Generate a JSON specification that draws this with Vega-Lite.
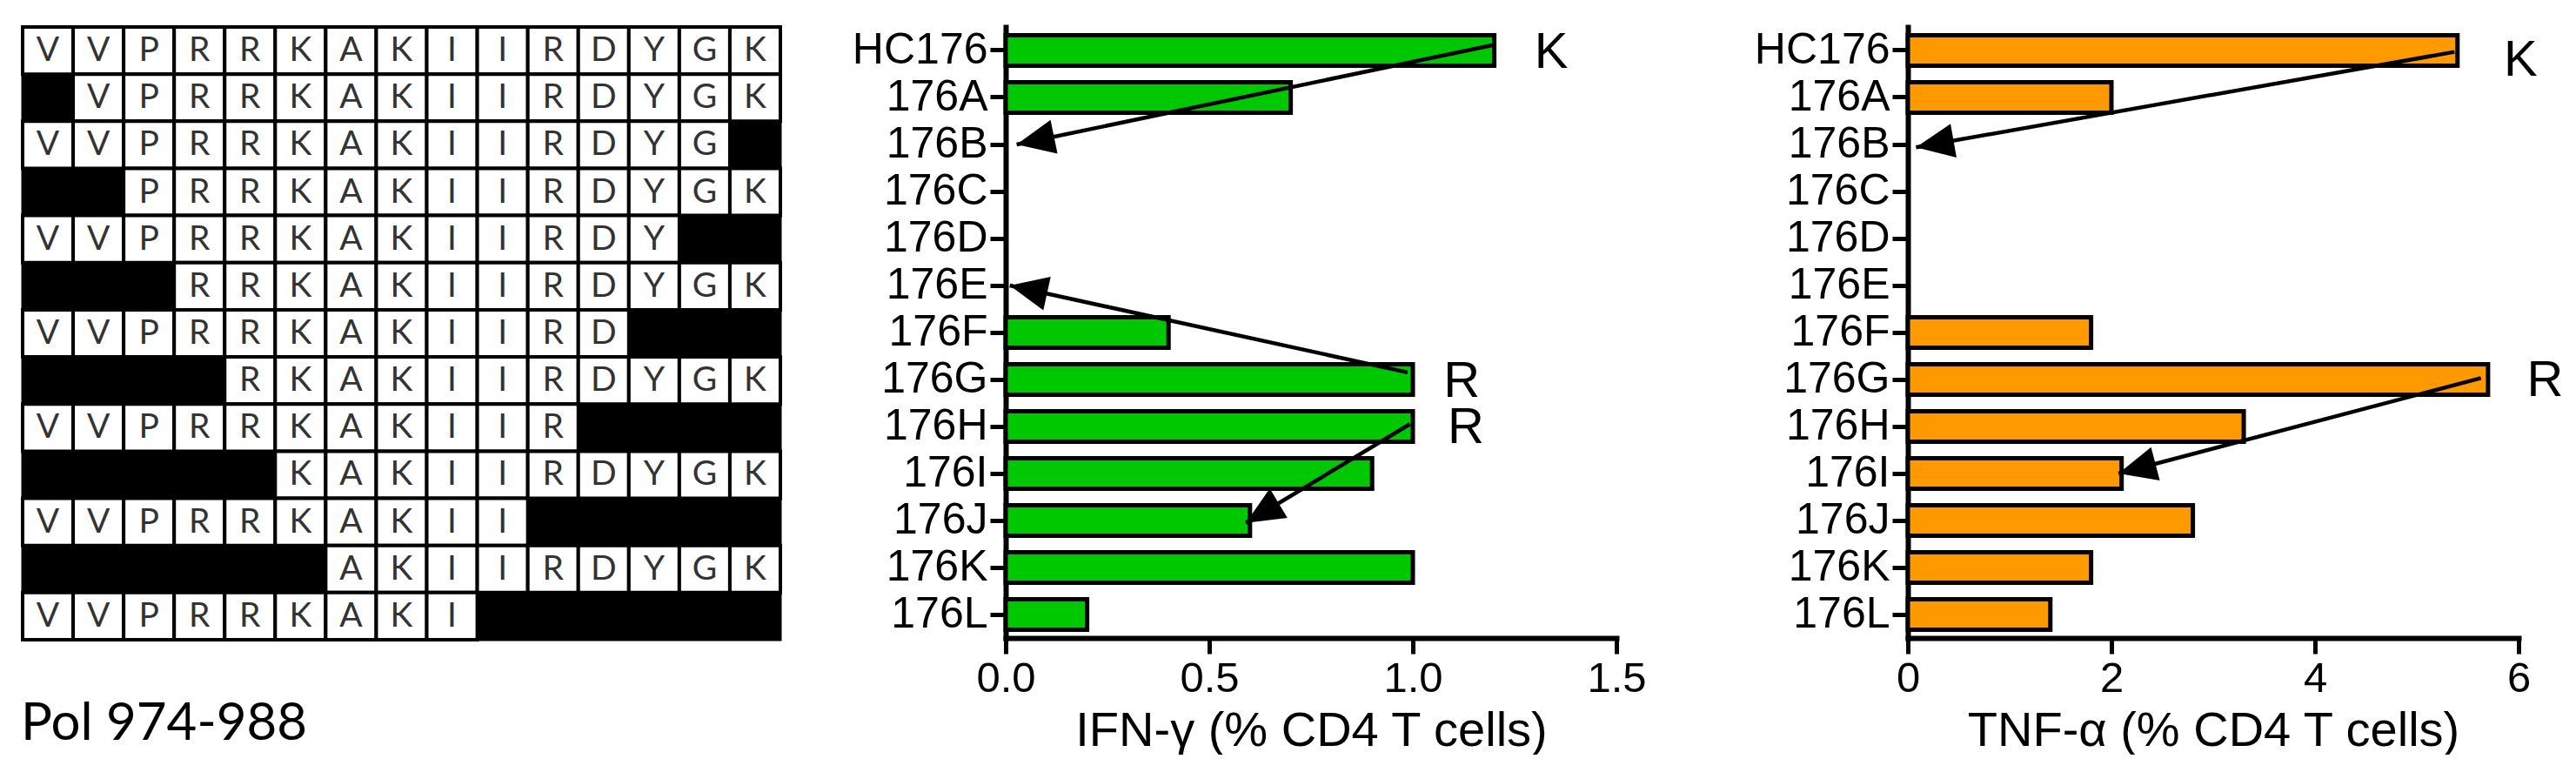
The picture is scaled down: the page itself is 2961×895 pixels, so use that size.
{
  "$schema": "https://vega.github.io/schema/vega-lite/v6.json",
  "padding": {"left": 22, "top": 27, "right": 0, "bottom": 0},
  "background": "white",
  "config": {
    "view": {"stroke": null},
    "font": "Liberation Sans",
    "axis": {
      "domainColor": "black", "domainWidth": 6, "domainCap": "square",
      "tickColor": "black", "tickWidth": 5, "tickSize": 18,
      "labelFont": "Liberation Sans", "labelFontSize": 49, "labelColor": "black", "labelPadding": 4,
      "labelFlush": false, "labelOverlap": false, "labelBound": false,
      "titleFont": "Liberation Sans", "titleFontSize": 56, "titleFontWeight": "normal", "titleColor": "black", "titlePadding": 8,
      "grid": false
    },
    "axisY": {"labelFontSize": 50, "labelPadding": 3}
  },
  "datasets": {
    "cells": [
      {"p":"HC176","i":1,"a":"V"},{"p":"HC176","i":2,"a":"V"},{"p":"HC176","i":3,"a":"P"},{"p":"HC176","i":4,"a":"R"},{"p":"HC176","i":5,"a":"R"},{"p":"HC176","i":6,"a":"K"},{"p":"HC176","i":7,"a":"A"},{"p":"HC176","i":8,"a":"K"},{"p":"HC176","i":9,"a":"I"},{"p":"HC176","i":10,"a":"I"},{"p":"HC176","i":11,"a":"R"},{"p":"HC176","i":12,"a":"D"},{"p":"HC176","i":13,"a":"Y"},{"p":"HC176","i":14,"a":"G"},{"p":"HC176","i":15,"a":"K"},
      {"p":"176A","i":2,"a":"V"},{"p":"176A","i":3,"a":"P"},{"p":"176A","i":4,"a":"R"},{"p":"176A","i":5,"a":"R"},{"p":"176A","i":6,"a":"K"},{"p":"176A","i":7,"a":"A"},{"p":"176A","i":8,"a":"K"},{"p":"176A","i":9,"a":"I"},{"p":"176A","i":10,"a":"I"},{"p":"176A","i":11,"a":"R"},{"p":"176A","i":12,"a":"D"},{"p":"176A","i":13,"a":"Y"},{"p":"176A","i":14,"a":"G"},{"p":"176A","i":15,"a":"K"},
      {"p":"176B","i":1,"a":"V"},{"p":"176B","i":2,"a":"V"},{"p":"176B","i":3,"a":"P"},{"p":"176B","i":4,"a":"R"},{"p":"176B","i":5,"a":"R"},{"p":"176B","i":6,"a":"K"},{"p":"176B","i":7,"a":"A"},{"p":"176B","i":8,"a":"K"},{"p":"176B","i":9,"a":"I"},{"p":"176B","i":10,"a":"I"},{"p":"176B","i":11,"a":"R"},{"p":"176B","i":12,"a":"D"},{"p":"176B","i":13,"a":"Y"},{"p":"176B","i":14,"a":"G"},
      {"p":"176C","i":3,"a":"P"},{"p":"176C","i":4,"a":"R"},{"p":"176C","i":5,"a":"R"},{"p":"176C","i":6,"a":"K"},{"p":"176C","i":7,"a":"A"},{"p":"176C","i":8,"a":"K"},{"p":"176C","i":9,"a":"I"},{"p":"176C","i":10,"a":"I"},{"p":"176C","i":11,"a":"R"},{"p":"176C","i":12,"a":"D"},{"p":"176C","i":13,"a":"Y"},{"p":"176C","i":14,"a":"G"},{"p":"176C","i":15,"a":"K"},
      {"p":"176D","i":1,"a":"V"},{"p":"176D","i":2,"a":"V"},{"p":"176D","i":3,"a":"P"},{"p":"176D","i":4,"a":"R"},{"p":"176D","i":5,"a":"R"},{"p":"176D","i":6,"a":"K"},{"p":"176D","i":7,"a":"A"},{"p":"176D","i":8,"a":"K"},{"p":"176D","i":9,"a":"I"},{"p":"176D","i":10,"a":"I"},{"p":"176D","i":11,"a":"R"},{"p":"176D","i":12,"a":"D"},{"p":"176D","i":13,"a":"Y"},
      {"p":"176E","i":4,"a":"R"},{"p":"176E","i":5,"a":"R"},{"p":"176E","i":6,"a":"K"},{"p":"176E","i":7,"a":"A"},{"p":"176E","i":8,"a":"K"},{"p":"176E","i":9,"a":"I"},{"p":"176E","i":10,"a":"I"},{"p":"176E","i":11,"a":"R"},{"p":"176E","i":12,"a":"D"},{"p":"176E","i":13,"a":"Y"},{"p":"176E","i":14,"a":"G"},{"p":"176E","i":15,"a":"K"},
      {"p":"176F","i":1,"a":"V"},{"p":"176F","i":2,"a":"V"},{"p":"176F","i":3,"a":"P"},{"p":"176F","i":4,"a":"R"},{"p":"176F","i":5,"a":"R"},{"p":"176F","i":6,"a":"K"},{"p":"176F","i":7,"a":"A"},{"p":"176F","i":8,"a":"K"},{"p":"176F","i":9,"a":"I"},{"p":"176F","i":10,"a":"I"},{"p":"176F","i":11,"a":"R"},{"p":"176F","i":12,"a":"D"},
      {"p":"176G","i":5,"a":"R"},{"p":"176G","i":6,"a":"K"},{"p":"176G","i":7,"a":"A"},{"p":"176G","i":8,"a":"K"},{"p":"176G","i":9,"a":"I"},{"p":"176G","i":10,"a":"I"},{"p":"176G","i":11,"a":"R"},{"p":"176G","i":12,"a":"D"},{"p":"176G","i":13,"a":"Y"},{"p":"176G","i":14,"a":"G"},{"p":"176G","i":15,"a":"K"},
      {"p":"176H","i":1,"a":"V"},{"p":"176H","i":2,"a":"V"},{"p":"176H","i":3,"a":"P"},{"p":"176H","i":4,"a":"R"},{"p":"176H","i":5,"a":"R"},{"p":"176H","i":6,"a":"K"},{"p":"176H","i":7,"a":"A"},{"p":"176H","i":8,"a":"K"},{"p":"176H","i":9,"a":"I"},{"p":"176H","i":10,"a":"I"},{"p":"176H","i":11,"a":"R"},
      {"p":"176I","i":6,"a":"K"},{"p":"176I","i":7,"a":"A"},{"p":"176I","i":8,"a":"K"},{"p":"176I","i":9,"a":"I"},{"p":"176I","i":10,"a":"I"},{"p":"176I","i":11,"a":"R"},{"p":"176I","i":12,"a":"D"},{"p":"176I","i":13,"a":"Y"},{"p":"176I","i":14,"a":"G"},{"p":"176I","i":15,"a":"K"},
      {"p":"176J","i":1,"a":"V"},{"p":"176J","i":2,"a":"V"},{"p":"176J","i":3,"a":"P"},{"p":"176J","i":4,"a":"R"},{"p":"176J","i":5,"a":"R"},{"p":"176J","i":6,"a":"K"},{"p":"176J","i":7,"a":"A"},{"p":"176J","i":8,"a":"K"},{"p":"176J","i":9,"a":"I"},{"p":"176J","i":10,"a":"I"},
      {"p":"176K","i":7,"a":"A"},{"p":"176K","i":8,"a":"K"},{"p":"176K","i":9,"a":"I"},{"p":"176K","i":10,"a":"I"},{"p":"176K","i":11,"a":"R"},{"p":"176K","i":12,"a":"D"},{"p":"176K","i":13,"a":"Y"},{"p":"176K","i":14,"a":"G"},{"p":"176K","i":15,"a":"K"},
      {"p":"176L","i":1,"a":"V"},{"p":"176L","i":2,"a":"V"},{"p":"176L","i":3,"a":"P"},{"p":"176L","i":4,"a":"R"},{"p":"176L","i":5,"a":"R"},{"p":"176L","i":6,"a":"K"},{"p":"176L","i":7,"a":"A"},{"p":"176L","i":8,"a":"K"},{"p":"176L","i":9,"a":"I"}
    ],
    "bars": [
      {"p":"HC176","ifn":1.2,"tnf":5.4},
      {"p":"176A","ifn":0.7,"tnf":2.0},
      {"p":"176B","ifn":null,"tnf":null},
      {"p":"176C","ifn":null,"tnf":null},
      {"p":"176D","ifn":null,"tnf":null},
      {"p":"176E","ifn":null,"tnf":null},
      {"p":"176F","ifn":0.4,"tnf":1.8},
      {"p":"176G","ifn":1.0,"tnf":5.7},
      {"p":"176H","ifn":1.0,"tnf":3.3},
      {"p":"176I","ifn":0.9,"tnf":2.1},
      {"p":"176J","ifn":0.6,"tnf":2.8},
      {"p":"176K","ifn":1.0,"tnf":1.8},
      {"p":"176L","ifn":0.2,"tnf":1.4}
    ],
    "arrows": [
      {"panel":"IFN","id":"i1","x1":1.2,"y1":0.38,"x2":0.027,"y2":2.5},
      {"panel":"IFN","id":"i2","x1":0.987,"y1":7.35,"x2":0.01,"y2":5.5},
      {"panel":"IFN","id":"i3","x1":0.993,"y1":8.45,"x2":0.59,"y2":10.55},
      {"panel":"TNF","id":"t1","x1":5.37,"y1":0.53,"x2":0.08,"y2":2.56},
      {"panel":"TNF","id":"t2","x1":5.63,"y1":7.47,"x2":2.07,"y2":9.5}
    ],
    "notes": [
      {"panel":"IFN","label":"K","x":1.34,"y":0.56},
      {"panel":"IFN","label":"R","x":1.12,"y":7.56},
      {"panel":"IFN","label":"R","x":1.13,"y":8.53},
      {"panel":"TNF","label":"K","x":6.02,"y":0.72},
      {"panel":"TNF","label":"R","x":6.26,"y":7.53}
    ]
  },
  "spacing": 259,
  "bounds": "flush",
  "hconcat": [
    {
      "width": 871,
      "height": 704,
      "data": {"name": "cells"},
      "view": {"fill": "black", "stroke": "black", "strokeWidth": 3},
      "title": {"text": "Pol 974-988", "orient": "bottom", "anchor": "start", "font": "Lato", "fontSize": 60, "fontWeight": "normal", "color": "black", "baseline": "alphabetic", "offset": 113},
      "encoding": {
        "x": {"field": "i", "type": "ordinal", "scale": {"domain": [1,2,3,4,5,6,7,8,9,10,11,12,13,14,15], "paddingInner": 0, "paddingOuter": 0}, "axis": null},
        "y": {"field": "p", "type": "nominal", "scale": {"domain": ["HC176","176A","176B","176C","176D","176E","176F","176G","176H","176I","176J","176K","176L"], "paddingInner": 0, "paddingOuter": 0}, "axis": null}
      },
      "layer": [
        {"mark": {"type": "rect", "fill": "white", "stroke": "black", "strokeWidth": 4}},
        {"mark": {"type": "text", "font": "Lato", "fontSize": 39, "color": "#333333", "baseline": "middle", "align": "center"}, "encoding": {"text": {"field": "a"}}}
      ]
    },
    {
      "spacing": 335,
      "bounds": "flush",
      "hconcat": [
        {
          "width": 702,
          "height": 702,
          "resolve": {"scale": {"y": "independent"}},
          "layer": [
            {
              "data": {"name": "bars"},
              "transform": [{"filter": "isValid(datum.ifn)"}],
              "mark": {"type": "bar", "fill": "#00c800", "stroke": "black", "strokeWidth": 5},
              "encoding": {
                "y": {"field": "p", "type": "nominal", "scale": {"domain": ["HC176","176A","176B","176C","176D","176E","176F","176G","176H","176I","176J","176K","176L"], "paddingInner": 0.35, "paddingOuter": 0.175}, "axis": {"title": null}},
                "x": {"field": "ifn", "type": "quantitative", "title": "IFN-γ (% CD4 T cells)", "scale": {"domain": [0, 1.5], "nice": false}, "axis": {"values": [0, 0.5, 1, 1.5], "format": ".1f"}}
              }
            },
            {
              "data": {"name": "arrows"},
              "transform": [{"filter": "datum.panel == 'IFN'"}],
              "mark": {"type": "rule", "strokeWidth": 4.5, "color": "black"},
              "encoding": {
                "x": {"field": "x1", "type": "quantitative", "title": "IFN-γ (% CD4 T cells)", "scale": {"domain": [0, 1.5], "nice": false}},
                "x2": {"field": "x2"},
                "y": {"field": "y1", "type": "quantitative", "scale": {"domain": [0, 13], "reverse": true, "nice": false, "zero": false}, "axis": null},
                "y2": {"field": "y2"}
              }
            },
            {
              "data": {"name": "arrows"},
              "transform": [{"filter": "datum.id == 'i1'"}],
              "mark": {"type": "point", "shape": "M0,0L-0.72,1.6L0.72,1.6Z", "size": 3000, "angle": 258.3, "filled": true, "color": "black", "opacity": 1},
              "encoding": {
                "x": {"field": "x2", "type": "quantitative", "title": "IFN-γ (% CD4 T cells)", "scale": {"domain": [0, 1.5], "nice": false}},
                "y": {"field": "y2", "type": "quantitative", "scale": {"domain": [0, 13], "reverse": true, "nice": false, "zero": false}, "axis": null}
              }
            },
            {
              "data": {"name": "arrows"},
              "transform": [{"filter": "datum.id == 'i2'"}],
              "mark": {"type": "point", "shape": "M0,0L-0.72,1.6L0.72,1.6Z", "size": 3000, "angle": 282.3, "filled": true, "color": "black", "opacity": 1},
              "encoding": {
                "x": {"field": "x2", "type": "quantitative", "title": "IFN-γ (% CD4 T cells)", "scale": {"domain": [0, 1.5], "nice": false}},
                "y": {"field": "y2", "type": "quantitative", "scale": {"domain": [0, 13], "reverse": true, "nice": false, "zero": false}, "axis": null}
              }
            },
            {
              "data": {"name": "arrows"},
              "transform": [{"filter": "datum.id == 'i3'"}],
              "mark": {"type": "point", "shape": "M0,0L-0.72,1.6L0.72,1.6Z", "size": 3000, "angle": 239.1, "filled": true, "color": "black", "opacity": 1},
              "encoding": {
                "x": {"field": "x2", "type": "quantitative", "title": "IFN-γ (% CD4 T cells)", "scale": {"domain": [0, 1.5], "nice": false}},
                "y": {"field": "y2", "type": "quantitative", "scale": {"domain": [0, 13], "reverse": true, "nice": false, "zero": false}, "axis": null}
              }
            },
            {
              "data": {"name": "notes"},
              "transform": [{"filter": "datum.panel == 'IFN'"}],
              "mark": {"type": "text", "font": "Liberation Sans", "fontSize": 58, "color": "black", "align": "center", "baseline": "middle"},
              "encoding": {
                "text": {"field": "label"},
                "x": {"field": "x", "type": "quantitative", "title": "IFN-γ (% CD4 T cells)", "scale": {"domain": [0, 1.5], "nice": false}},
                "y": {"field": "y", "type": "quantitative", "scale": {"domain": [0, 13], "reverse": true, "nice": false, "zero": false}, "axis": null}
              }
            }
          ]
        },
        {
          "width": 702,
          "height": 702,
          "resolve": {"scale": {"y": "independent"}},
          "layer": [
            {
              "data": {"name": "bars"},
              "transform": [{"filter": "isValid(datum.tnf)"}],
              "mark": {"type": "bar", "fill": "#ff9900", "stroke": "black", "strokeWidth": 5},
              "encoding": {
                "y": {"field": "p", "type": "nominal", "scale": {"domain": ["HC176","176A","176B","176C","176D","176E","176F","176G","176H","176I","176J","176K","176L"], "paddingInner": 0.35, "paddingOuter": 0.175}, "axis": {"title": null}},
                "x": {"field": "tnf", "type": "quantitative", "title": "TNF-α (% CD4 T cells)", "scale": {"domain": [0, 6], "nice": false}, "axis": {"values": [0, 2, 4, 6], "format": "d"}}
              }
            },
            {
              "data": {"name": "arrows"},
              "transform": [{"filter": "datum.panel == 'TNF'"}],
              "mark": {"type": "rule", "strokeWidth": 4.5, "color": "black"},
              "encoding": {
                "x": {"field": "x1", "type": "quantitative", "title": "TNF-α (% CD4 T cells)", "scale": {"domain": [0, 6], "nice": false}},
                "x2": {"field": "x2"},
                "y": {"field": "y1", "type": "quantitative", "scale": {"domain": [0, 13], "reverse": true, "nice": false, "zero": false}, "axis": null},
                "y2": {"field": "y2"}
              }
            },
            {
              "data": {"name": "arrows"},
              "transform": [{"filter": "datum.id == 't1'"}],
              "mark": {"type": "point", "shape": "M0,0L-0.72,1.6L0.72,1.6Z", "size": 3000, "angle": 260.0, "filled": true, "color": "black", "opacity": 1},
              "encoding": {
                "x": {"field": "x2", "type": "quantitative", "title": "TNF-α (% CD4 T cells)", "scale": {"domain": [0, 6], "nice": false}},
                "y": {"field": "y2", "type": "quantitative", "scale": {"domain": [0, 13], "reverse": true, "nice": false, "zero": false}, "axis": null}
              }
            },
            {
              "data": {"name": "arrows"},
              "transform": [{"filter": "datum.id == 't2'"}],
              "mark": {"type": "point", "shape": "M0,0L-0.72,1.6L0.72,1.6Z", "size": 3000, "angle": 255.3, "filled": true, "color": "black", "opacity": 1},
              "encoding": {
                "x": {"field": "x2", "type": "quantitative", "title": "TNF-α (% CD4 T cells)", "scale": {"domain": [0, 6], "nice": false}},
                "y": {"field": "y2", "type": "quantitative", "scale": {"domain": [0, 13], "reverse": true, "nice": false, "zero": false}, "axis": null}
              }
            },
            {
              "data": {"name": "notes"},
              "transform": [{"filter": "datum.panel == 'TNF'"}],
              "mark": {"type": "text", "font": "Liberation Sans", "fontSize": 58, "color": "black", "align": "center", "baseline": "middle"},
              "encoding": {
                "text": {"field": "label"},
                "x": {"field": "x", "type": "quantitative", "title": "TNF-α (% CD4 T cells)", "scale": {"domain": [0, 6], "nice": false}},
                "y": {"field": "y", "type": "quantitative", "scale": {"domain": [0, 13], "reverse": true, "nice": false, "zero": false}, "axis": null}
              }
            }
          ]
        }
      ]
    }
  ]
}
